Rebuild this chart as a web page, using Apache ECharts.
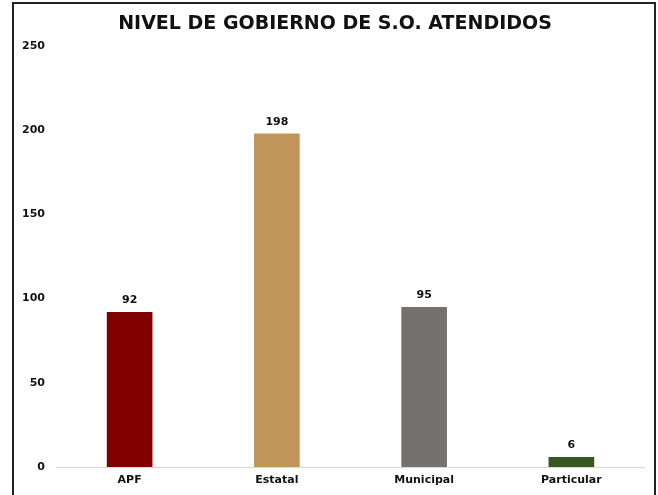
<!DOCTYPE html>
<html><head><meta charset="utf-8">
<script src="https://cdn.jsdelivr.net/npm/echarts@6/dist/echarts.min.js"></script>
<style>html,body{margin:0;padding:0;background:#fff}#c{width:658px;height:495px}</style>
</head><body><div id="c"></div>
<script>
const categories = ['APF', 'Estatal', 'Municipal', 'Particular'];
const values = [92, 198, 95, 6];
const barColors = ['#800000', '#bf955a', '#767171', '#375623'];
const yTicks = [0, 50, 100, 150, 200, 250];

const FONT = 'DejaVu Sans';
const chart = echarts.init(document.getElementById('c'));
chart.setOption({
  animation: false,
  title: {
    text: 'NIVEL DE GOBIERNO DE S.O. ATENDIDOS',
    left: 330, top: 10, textAlign: 'center',
    textStyle: {fontFamily: FONT, fontWeight: 'bold', fontSize: 19, color: '#111'}
  },
  graphic: [{
    type: 'rect', shape: {x: 13, y: 3, width: 642, height: 500},
    style: {fill: 'none', stroke: '#222', lineWidth: 2}, silent: true
  }],
  grid: {left: 56, right: 13, top: 46, bottom: 28, containLabel: false},
  xAxis: {
    type: 'category', data: categories,
    axisLine: {lineStyle: {color: '#d9d9d9', width: 1}},
    axisTick: {show: false},
    axisLabel: {fontFamily: FONT, fontWeight: 'bold', fontSize: 11, color: '#111', margin: 8}
  },
  yAxis: {
    type: 'value', min: 0, max: 250, interval: 50,
    splitLine: {show: false},
    axisLine: {show: false}, axisTick: {show: false},
    axisLabel: {fontFamily: FONT, fontWeight: 'bold', fontSize: 11, color: '#111', margin: 11,
      formatter: v => yTicks.includes(v) ? String(v) : ''}
  },
  series: [{
    type: 'bar', data: values.map((v, i) => ({value: v, itemStyle: {color: barColors[i]}})),
    barWidth: '31%',
    label: {show: true, position: 'top', distance: 6, fontFamily: FONT, fontWeight: 'bold', fontSize: 11, color: '#111'}
  }]
});
</script></body></html>
